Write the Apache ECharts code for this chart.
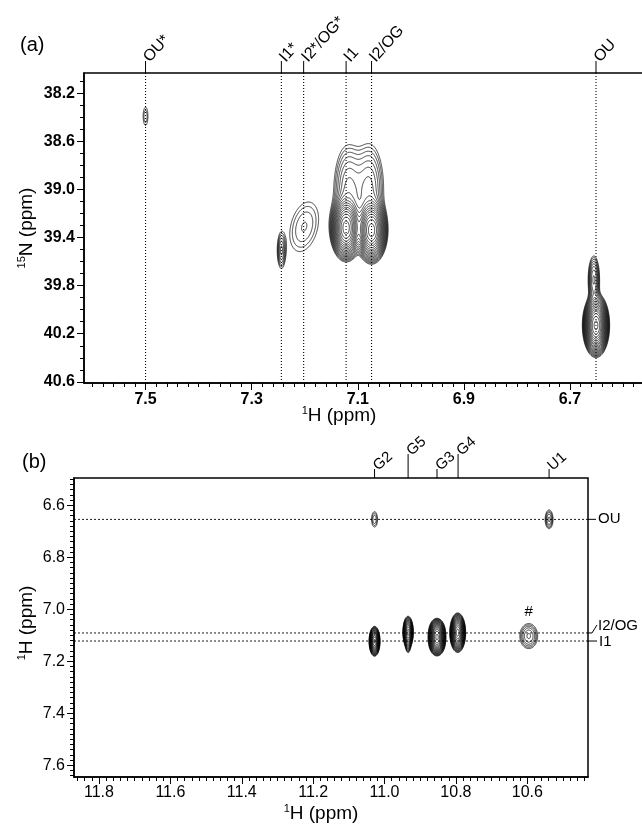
<!DOCTYPE html>
<html><head><meta charset="utf-8">
<script src="https://cdn.jsdelivr.net/npm/echarts@6/dist/echarts.min.js"></script>
<style>html,body{margin:0;padding:0;background:#fff}#c{width:642px;height:827px}</style>
</head><body><div id="c"></div>
<script>
// ================= DATA =================
// Panel (a): 1H-15N spectrum
const aTickLabelsH = [7.5, 7.3, 7.1, 6.9, 6.7];
const aTickLabelsN = [38.2, 38.6, 39.0, 39.4, 39.8, 40.2, 40.6];
const aAssignNames = ['OU*', 'I1*', 'I2*/OG*', 'I1', 'I2/OG', 'OU'];
const aAssignH     = [7.500, 7.244, 7.202, 7.122, 7.074, 6.651];
// peaks (center 1H, center 15N, width 1H, width 15N, amplitude, tilt)
const aPeakH   = [7.500, 7.244, 7.201, 7.122, 7.074, 7.118, 7.078, 6.651, 6.655];
const aPeakN   = [38.39, 39.51, 39.31, 39.32, 39.34, 39.00, 38.99, 40.13, 39.75];
const aPeakWH  = [0.005, 0.0049, 0.023, 0.011, 0.011, 0.016, 0.016, 0.009, 0.006];
const aPeakWN  = [0.084, 0.094, 0.175, 0.100, 0.100, 0.220, 0.220, 0.094, 0.110];
const aPeakAmp = [1.5, 3.0, 2.0, 50, 50, 4, 4, 60, 5];
const aPeakRho = [0, 0, 0.3, 0, 0, 0, 0, 0, 0];

// Panel (b): 1H-1H spectrum
const bTickLabelsX = [11.8, 11.6, 11.4, 11.2, 11.0, 10.8, 10.6];
const bTickLabelsY = [6.6, 6.8, 7.0, 7.2, 7.4, 7.6];
const bColNames = ['G2', 'G5', 'G3', 'G4', 'U1'];
const bColH     = [11.028, 10.934, 10.853, 10.794, 10.539];
const bRowNames = ['OU', 'I2/OG', 'I1'];
const bRowH     = [6.654, 7.091, 7.122];
const bExtraName = '#';
const bPeakX   = [11.028, 10.539, 11.028, 10.934, 10.934, 10.853, 10.853, 10.795, 10.596];
const bPeakY   = [6.654, 6.654, 7.123, 7.088, 7.135, 7.092, 7.122, 7.090, 7.103];
const bPeakWX  = [0.0074, 0.008, 0.0059, 0.006, 0.004, 0.009, 0.009, 0.0082, 0.0164];
const bPeakWY  = [0.026, 0.026, 0.022, 0.025, 0.020, 0.022, 0.022, 0.028, 0.0315];
const bPeakAmp = [1.9, 2.6, 30, 20, 3, 30, 30, 40, 3.2];
const bPeakRho = [0, 0, 0, 0, 0, 0, 0, 0, 0];

// contour levels: base level and geometric factor
const contourBase = 1.0, contourFactor = 1.25, contourCount = 30;

// axis ranges
const A_X = [6.5605, 7.616], A_Y = [38.03, 40.61];
const B_X = [10.43, 11.87],  B_Y = [6.495, 7.645];

// ================= HELPERS =================
const FONT = "'Liberation Sans', Arial, Helvetica, sans-serif";
const levels = [];
for (let k = 0; k < contourCount; k++) levels.push(contourBase * Math.pow(contourFactor, k));

function stepValues(min, max, step) {
  const out = [];
  const k0 = Math.ceil(min / step - 1e-9), k1 = Math.floor(max / step + 1e-9);
  for (let k = k0; k <= k1; k++) out.push(+(k * step).toFixed(6));
  return out;
}

function computeContours(xr, yr, nx, ny, px, py, sx, sy, amp, rho) {
  const x0 = xr[0], y0 = yr[0];
  const dx = (xr[1] - xr[0]) / (nx - 1), dy = (yr[1] - yr[0]) / (ny - 1);
  const f = new Float32Array(nx * ny);
  for (let p = 0; p < px.length; p++) {
    const r = rho[p], den = 1 - r * r;
    const i0 = Math.max(0, Math.floor((px[p] - 6 * sx[p] - x0) / dx));
    const i1 = Math.min(nx - 1, Math.ceil((px[p] + 6 * sx[p] - x0) / dx));
    const j0 = Math.max(0, Math.floor((py[p] - 6 * sy[p] - y0) / dy));
    const j1 = Math.min(ny - 1, Math.ceil((py[p] + 6 * sy[p] - y0) / dy));
    for (let j = j0; j <= j1; j++) {
      const v = (y0 + j * dy - py[p]) / sy[p];
      for (let i = i0; i <= i1; i++) {
        const u = (x0 + i * dx - px[p]) / sx[p];
        const q = (u * u - 2 * r * u * v + v * v) / den;
        f[j * nx + i] += amp[p] * Math.exp(-0.5 * q);
      }
    }
  }
  const out = levels.map(() => []);
  const L0 = levels[0];
  for (let j = 0; j < ny - 1; j++) {
    const yj = y0 + j * dy;
    for (let i = 0; i < nx - 1; i++) {
      const a = f[j * nx + i], b = f[j * nx + i + 1], c = f[(j + 1) * nx + i + 1], d = f[(j + 1) * nx + i];
      const mx = Math.max(a, b, c, d);
      if (mx < L0) continue;
      const mn = Math.min(a, b, c, d);
      const xi = x0 + i * dx;
      for (let k = 0; k < levels.length; k++) {
        const L = levels[k];
        if (L > mx) break;
        if (L <= mn) continue;
        const cs = (a > L ? 1 : 0) | (b > L ? 2 : 0) | (c > L ? 4 : 0) | (d > L ? 8 : 0);
        const E = (e) => {
          let t;
          if (e === 0) { t = (L - a) / (b - a); return [xi + t * dx, yj]; }
          if (e === 1) { t = (L - b) / (c - b); return [xi + dx, yj + t * dy]; }
          if (e === 2) { t = (L - d) / (c - d); return [xi + t * dx, yj + dy]; }
          t = (L - a) / (d - a); return [xi, yj + t * dy];
        };
        const seg = (e1, e2) => { const p = E(e1), q = E(e2); out[k].push(p[0], p[1], q[0], q[1]); };
        switch (cs) {
          case 1: case 14: seg(3, 0); break;
          case 2: case 13: seg(0, 1); break;
          case 3: case 12: seg(3, 1); break;
          case 4: case 11: seg(1, 2); break;
          case 6: case 9: seg(0, 2); break;
          case 7: case 8: seg(2, 3); break;
          case 5: seg(3, 0); seg(1, 2); break;
          case 10: seg(0, 1); seg(2, 3); break;
        }
      }
    }
  }
  return out.filter(s => s.length > 0);
}

const contA = computeContours(A_X, A_Y, 1120, 620, aPeakH, aPeakN, aPeakWH, aPeakWN, aPeakAmp, aPeakRho);
const contB = computeContours(B_X, B_Y, 1030, 600, bPeakX, bPeakY, bPeakWX, bPeakWY, bPeakAmp, bPeakRho);

function contourSeries(contours, xi, yi, xr, yr) {
  const xm = (xr[0] + xr[1]) / 2, ym = (yr[0] + yr[1]) / 2;
  return {
    type: 'custom', xAxisIndex: xi, yAxisIndex: yi, silent: true, animation: false, z: 5,
    data: contours.map((c, k) => [xm, ym, k]),
    renderItem: function (params, api) {
      const segs = contours[params.dataIndex];
      const parts = [];
      for (let s = 0; s < segs.length; s += 4) {
        const p1 = api.coord([segs[s], segs[s + 1]]);
        const p2 = api.coord([segs[s + 2], segs[s + 3]]);
        parts.push('M' + p1[0].toFixed(2) + ' ' + p1[1].toFixed(2) + 'L' + p2[0].toFixed(2) + ' ' + p2[1].toFixed(2));
      }
      return { type: 'path', shape: { pathData: parts.join('') },
               style: { stroke: '#000', fill: 'none', lineWidth: 0.75 } };
    }
  };
}

function mainAxis(dim, gi, range, step, labels, bold, margin) {
  return {
    type: 'value', gridIndex: gi, min: range[0], max: range[1], inverse: true,
    position: dim === 'x' ? 'bottom' : 'left',
    axisLine: { show: true, onZero: false, lineStyle: { color: '#000', width: 1.5 } },
    axisTick: { show: true, customValues: stepValues(range[0], range[1], step), length: 4,
                lineStyle: { color: '#000', width: 1 } },
    axisLabel: { show: true, customValues: labels, margin: margin, color: '#000',
                 fontFamily: FONT, fontSize: 16, fontWeight: bold ? 'bold' : 'normal',
                 formatter: v => (+v).toFixed(1) },
    splitLine: { show: false }, axisPointer: { show: false }
  };
}
function majorAxis(dim, gi, range, labels) {
  return {
    type: 'value', gridIndex: gi, min: range[0], max: range[1], inverse: true,
    position: dim === 'x' ? 'bottom' : 'left',
    axisLine: { show: false, onZero: false },
    axisTick: { show: true, customValues: labels, length: 7, lineStyle: { color: '#000', width: 1 } },
    axisLabel: { show: false }, splitLine: { show: false }
  };
}

const option = {
  animation: false,
  backgroundColor: '#fff',
  grid: [
    { left: 84, top: 73, width: 560, height: 310, show: true, borderColor: '#000', borderWidth: 1.5,
      backgroundColor: 'transparent', containLabel: false, outerBoundsMode: 'none' },
    { left: 74, top: 478, width: 514, height: 299, show: true, borderColor: '#000', borderWidth: 1.5,
      backgroundColor: 'transparent', containLabel: false, outerBoundsMode: 'none' }
  ],
  xAxis: [
    mainAxis('x', 0, A_X, 0.02, aTickLabelsH, true, 9),
    majorAxis('x', 0, A_X, aTickLabelsH),
    mainAxis('x', 1, B_X, 0.02, bTickLabelsX, false, 8),
    majorAxis('x', 1, B_X, bTickLabelsX)
  ],
  yAxis: [
    mainAxis('y', 0, A_Y, 0.1, aTickLabelsN, true, 9),
    majorAxis('y', 0, A_Y, aTickLabelsN),
    mainAxis('y', 1, B_Y, 0.02, bTickLabelsY, false, 9),
    majorAxis('y', 1, B_Y, bTickLabelsY)
  ],
  series: [
    ...aAssignH.map(v => ({
      type: 'line', xAxisIndex: 0, yAxisIndex: 0, data: [[v, A_Y[0]], [v, A_Y[1]]],
      symbol: 'none', silent: true, animation: false, z: 3,
      lineStyle: { color: '#000', width: 1.1, type: [1.1, 1.9] }
    })),
    ...bRowH.map(v => ({
      type: 'line', xAxisIndex: 2, yAxisIndex: 2, data: [[B_X[0], v], [B_X[1], v]],
      symbol: 'none', silent: true, animation: false, z: 3,
      lineStyle: { color: '#000', width: 0.9, type: [2, 2] }
    })),
    contourSeries(contA, 0, 0, A_X, A_Y),
    contourSeries(contB, 2, 2, B_X, B_Y)
  ]
};

const chart = echarts.init(document.getElementById('c'), null, { renderer: 'canvas' });
chart.setOption(option);

// ================= ANNOTATIONS =================
const G = [];
const pA = (x, y) => chart.convertToPixel({ xAxisIndex: 0, yAxisIndex: 0 }, [x, y]);
const pB = (x, y) => chart.convertToPixel({ xAxisIndex: 2, yAxisIndex: 2 }, [x, y]);
function txt(x, y, text, opt) {
  opt = opt || {};
  G.push({
    type: 'text', x: x, y: y, rotation: opt.rot || 0, silent: true, z: 10,
    style: Object.assign({
      legacy: false, text: text, fill: '#000',
      font: (opt.weight || 'normal') + ' ' + (opt.size || 14) + 'px ' + FONT,
      align: opt.align || 'left', verticalAlign: opt.valign || 'middle'
    }, opt.rich ? { rich: opt.rich } : {})
  });
}
function seg(pts, w) {
  G.push({ type: 'polyline', silent: true, z: 10, shape: { points: pts },
           style: { stroke: '#000', lineWidth: w || 1, fill: 'none' } });
}
const supRich = {
  s: { fontSize: 11, fontFamily: FONT, verticalAlign: 'top', lineHeight: 22 },
  m: { fontSize: 19, fontFamily: FONT, lineHeight: 22 }
};

// panel (a) assignment labels on top
const rotA = 48 * Math.PI / 180;
aAssignH.forEach((v, i) => {
  const p = pA(v, A_Y[0]);
  seg([[p[0], p[1]], [p[0], p[1] - 12]], 1);
  txt(p[0] + 1.5 * Math.cos(rotA), p[1] - 12 - 1.5 * Math.sin(rotA), aAssignNames[i], { rot: rotA, size: 16 });
});
// panel (b) column labels on top
const rotB = 42 * Math.PI / 180;
const colLen = [9, 24, 9, 24, 9];
bColH.forEach((v, i) => {
  const p = pB(v, B_Y[0]);
  seg([[p[0], p[1]], [p[0], p[1] - colLen[i]]], 1);
  txt(p[0] + 1, p[1] - colLen[i] - 1, bColNames[i], { rot: rotB, size: 15 });
});
// panel (b) row labels at the right
(function () {
  const r0 = pB(B_X[0], bRowH[0]);
  seg([[r0[0], r0[1]], [r0[0] + 8, r0[1]]], 1);
  txt(r0[0] + 10, r0[1], bRowNames[0], { size: 15 });
  const r1 = pB(B_X[0], bRowH[1]);
  seg([[r1[0], r1[1]], [r1[0] + 4, r1[1]], [r1[0] + 9, r1[1] - 8]], 1);
  txt(r1[0] + 10, r1[1] - 7, bRowNames[1], { size: 15 });
  const r2 = pB(B_X[0], bRowH[2]);
  seg([[r2[0], r2[1]], [r2[0] + 9, r2[1]]], 1);
  txt(r2[0] + 11, r2[1] + 1, bRowNames[2], { size: 15 });
  const h = pB(bPeakX[8], bPeakY[8]);
  txt(h[0], h[1] - 24, bExtraName, { size: 15, align: 'center' });
})();
// panel letters
txt(20, 45, '(a)', { size: 20 });
txt(22, 462, '(b)', { size: 20 });
// axis titles
txt(339, 416, '{s|1}{m|H (ppm)}', { align: 'center', rich: supRich, size: 19 });
txt(321, 814, '{s|1}{m|H (ppm)}', { align: 'center', rich: supRich, size: 19 });
txt(27, 228, '{s|15}{m|N (ppm)}', { align: 'center', rich: supRich, size: 19, rot: Math.PI / 2 });
txt(27, 623, '{s|1}{m|H (ppm)}', { align: 'center', rich: supRich, size: 19, rot: Math.PI / 2 });

chart.setOption({ graphic: { elements: G } });
</script>
</body></html>
